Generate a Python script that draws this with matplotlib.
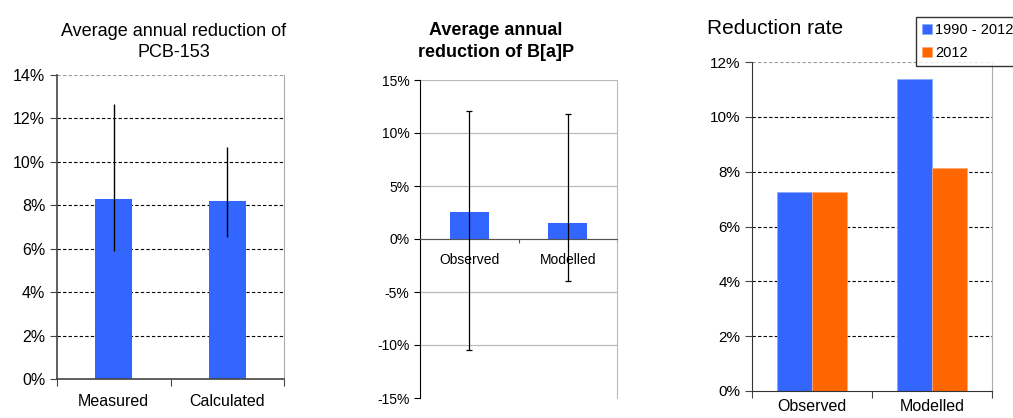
import matplotlib
matplotlib.use("Agg")
from matplotlib import pyplot as plt
from matplotlib.ticker import FuncFormatter, FixedLocator

plt.rcParams['font.family'] = ['Liberation Sans', 'DejaVu Sans']

BLUE = '#3366FF'
ORANGE = '#FF6600'

# panel 1: PCB-153
pcb_cats = ['Measured', 'Calculated']
pcb_vals = [8.27, 8.18]
pcb_lo = [5.91, 6.55]
pcb_hi = [12.65, 10.67]

# panel 2: B[a]P
bap_cats = ['Observed', 'Modelled']
bap_vals = [2.57, 1.53]
bap_lo = [-10.5, -3.93]
bap_hi = [12.1, 11.83]

# panel 3: reduction rate
rr_cats = ['Observed', 'Modelled']
rr_period = [7.26, 11.38]
rr_2012 = [7.26, 8.13]
rr_labels = ['1990 - 2012', '2012']

W, H = 1013, 418
fig = plt.figure(figsize=(W / 100, H / 100), dpi=100)


def box(l, r, t, b):
    return [l / W, (H - b) / H, (r - l) / W, (b - t) / H]


pct = FuncFormatter(lambda v, p: '%d%%' % round(v))

# ---- panel 1
ax1 = fig.add_axes(box(57, 284, 75, 379))
x = range(len(pcb_cats))
err = [[v - lo for v, lo in zip(pcb_vals, pcb_lo)], [hi - v for v, hi in zip(pcb_vals, pcb_hi)]]
ax1.bar(x, pcb_vals, width=0.33, color=BLUE, zorder=2)
ax1.errorbar(x, pcb_vals, yerr=err, fmt='none', ecolor='black', elinewidth=1, capsize=0, zorder=3)
ax1.set_xlim(-0.5, 1.5)
ax1.set_ylim(0, 14)
ax1.set_yticks(range(0, 15, 2))
ax1.yaxis.set_major_formatter(pct)
for v in range(2, 13, 2):
    ax1.axhline(v, color='black', lw=0.8, ls=(0, (3, 2)), zorder=1)
ax1.axhline(14, color='#999999', lw=0.8, ls=(0, (3, 2)), zorder=1)
ax1.xaxis.set_major_locator(FixedLocator([-0.5, 0.5, 1.5]))
ax1.xaxis.set_minor_locator(FixedLocator([0, 1]))
ax1.set_xticklabels(['', '', ''])
ax1.set_xticklabels(pcb_cats, minor=True)
ax1.tick_params(axis='x', which='minor', length=0, labelsize=11.5, pad=11)
ax1.tick_params(axis='x', which='major', length=5, direction='out', color='#444444')
ax1.tick_params(axis='y', length=5, direction='out', labelsize=11.5, color='#444444')
ax1.spines['top'].set_visible(False)
ax1.spines['right'].set_color('#AAAAAA')
ax1.spines['left'].set_color('#444444')
ax1.spines['bottom'].set_color('#444444')
ax1.spines['left'].set_linewidth(1.2)
ax1.spines['bottom'].set_linewidth(1.2)
fig.text(174 / W, 1 - 42 / H, 'Average annual reduction of\nPCB-153', fontsize=13, ha='center',
         va='center', linespacing=1.25)

# ---- panel 2
ax2 = fig.add_axes(box(420, 617, 80, 398))
x = range(len(bap_cats))
err = [[v - lo for v, lo in zip(bap_vals, bap_lo)], [hi - v for v, hi in zip(bap_vals, bap_hi)]]
ax2.bar(x, bap_vals, width=0.4, color=BLUE, zorder=2)
ax2.errorbar(x, bap_vals, yerr=err, fmt='none', ecolor='black', elinewidth=0.9, capsize=2.5, capthick=0.9, zorder=3)
ax2.set_xlim(-0.5, 1.5)
ax2.set_ylim(-15, 15)
ax2.set_yticks(range(-15, 16, 5))
ax2.yaxis.set_major_formatter(pct)
for v in range(-10, 16, 5):
    ax2.axhline(v, color='#BBBBBB', lw=0.9, zorder=1)
ax2.spines['bottom'].set_position(('data', 0))
ax2.spines['bottom'].set_color('#555555')
ax2.spines['top'].set_visible(False)
ax2.spines['right'].set_color('#BBBBBB')
ax2.spines['left'].set_color('black')
ax2.xaxis.set_major_locator(FixedLocator([0.5, 1.5]))
ax2.set_xticklabels(['', ''])
ax2.tick_params(axis='x', length=3, direction='out', color='#555555')
ax2.tick_params(axis='y', length=4, direction='out', labelsize=10, color='black')
for xi, c in zip(x, bap_cats):
    ax2.text(xi, -1.3, c, ha='center', va='top', fontsize=10)
fig.text(496 / W, 1 - 41.5 / H, 'Average annual\nreduction of B[a]P', fontsize=13, fontweight='bold',
         ha='center', va='center', linespacing=1.45)

# ---- panel 3
ax3 = fig.add_axes(box(752, 992, 62, 391))
x = list(range(len(rr_cats)))
bw = 0.29
ax3.bar([i - bw / 2 for i in x], rr_period, width=bw, color=BLUE, edgecolor='#88AAFF', lw=0.5, zorder=2, label=rr_labels[0])
ax3.bar([i + bw / 2 for i in x], rr_2012, width=bw, color=ORANGE, edgecolor='#FFAA77', lw=0.5, zorder=2, label=rr_labels[1])
ax3.set_xlim(-0.5, 1.5)
ax3.set_ylim(0, 12)
ax3.set_yticks(range(0, 13, 2))
ax3.yaxis.set_major_formatter(pct)
for v in range(2, 11, 2):
    ax3.axhline(v, color='black', lw=0.8, ls=(0, (3, 2)), zorder=1)
ax3.axhline(12, color='#999999', lw=0.8, ls=(0, (3, 2)), zorder=1)
ax3.xaxis.set_major_locator(FixedLocator([-0.5, 0.5, 1.5]))
ax3.xaxis.set_minor_locator(FixedLocator(x))
ax3.set_xticklabels(['', '', ''])
ax3.set_xticklabels(rr_cats, minor=True)
ax3.tick_params(axis='x', which='minor', length=0, labelsize=11.5, pad=6)
ax3.tick_params(axis='x', which='major', length=5, direction='out', color='#444444')
ax3.tick_params(axis='y', length=5, direction='out', labelsize=11, color='#444444')
ax3.spines['top'].set_visible(False)
ax3.spines['right'].set_color('#AAAAAA')
ax3.spines['left'].set_color('#333333')
ax3.spines['bottom'].set_color('#333333')
fig.text(707 / W, 1 - 29 / H, 'Reduction rate', fontsize=15, ha='left', va='center')
leg = fig.legend(loc='upper left', bbox_to_anchor=(909 / W, 1 - 10 / H), fontsize=10.5,
                 frameon=True, fancybox=False, edgecolor='black', handlelength=0.7,
                 handleheight=0.7, handletextpad=0.2, labelspacing=0.6, borderpad=0.4)
leg.get_frame().set_linewidth(1)

fig.savefig('out.png', dpi=100)
